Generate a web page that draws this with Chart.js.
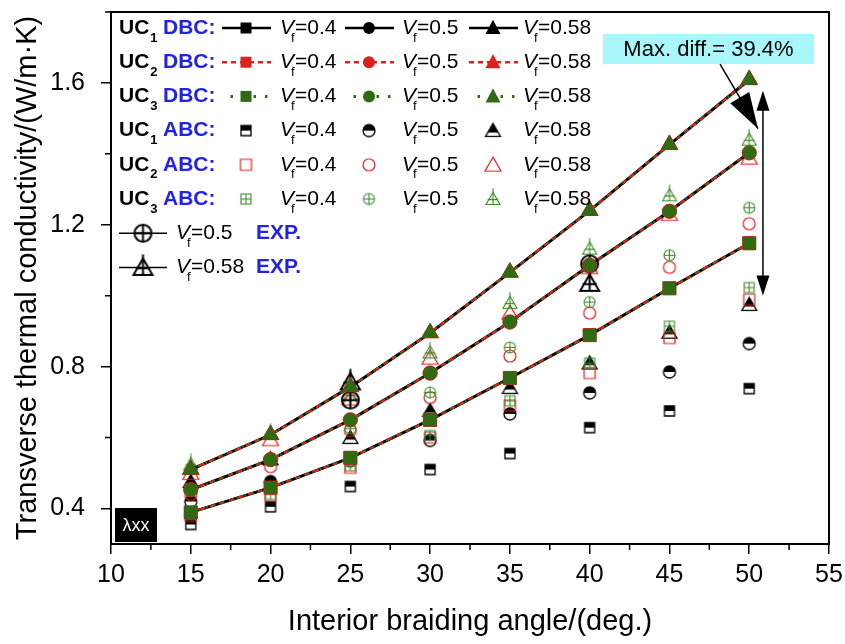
<!DOCTYPE html>
<html>
<head>
<meta charset="utf-8">
<script src="https://cdn.jsdelivr.net/npm/chart.js"></script>
<style>
  body { margin: 0; background: #fff; }
  canvas { display: block; }
</style>
</head>
<body>
<canvas id="chart" width="845" height="644"></canvas>
<script>
// interior braiding angle (deg.)
const angles = [15, 20, 25, 30, 35, 40, 45, 50];
const expAngles = [25, 40];
const xTicks = [10, 15, 20, 25, 30, 35, 40, 45, 50, 55];
const xMinor = [12.5, 17.5, 22.5, 27.5, 32.5, 37.5, 42.5, 47.5, 52.5];
const yTicks = [0.4, 0.8, 1.2, 1.6];
const yMinor = [0.6, 1.0, 1.4, 1.8];

// DBC predictions (UC1, UC2, UC3 fall on top of each other)
const uc1Dbc40 = [0.389, 0.459, 0.543, 0.650, 0.768, 0.889, 1.021, 1.148];
const uc1Dbc50 = [0.453, 0.538, 0.650, 0.782, 0.926, 1.086, 1.238, 1.403];
const uc1Dbc58 = [0.510, 0.608, 0.743, 0.895, 1.066, 1.240, 1.426, 1.609];
const uc2Dbc40 = [0.389, 0.459, 0.543, 0.650, 0.768, 0.889, 1.021, 1.148];
const uc2Dbc50 = [0.453, 0.538, 0.650, 0.782, 0.926, 1.086, 1.238, 1.403];
const uc2Dbc58 = [0.510, 0.608, 0.743, 0.895, 1.066, 1.240, 1.426, 1.609];
const uc3Dbc40 = [0.389, 0.459, 0.543, 0.650, 0.768, 0.889, 1.021, 1.148];
const uc3Dbc50 = [0.453, 0.538, 0.650, 0.782, 0.926, 1.086, 1.238, 1.403];
const uc3Dbc58 = [0.510, 0.608, 0.743, 0.895, 1.066, 1.240, 1.426, 1.609];

// ABC predictions
const uc1Abc40 = [0.355, 0.405, 0.462, 0.510, 0.555, 0.628, 0.675, 0.738];
const uc1Abc50 = [0.420, 0.476, 0.535, 0.592, 0.667, 0.726, 0.785, 0.865];
const uc1Abc58 = [0.476, 0.540, 0.600, 0.676, 0.741, 0.810, 0.897, 0.975];
const uc2Abc40 = [0.380, 0.437, 0.515, 0.600, 0.690, 0.782, 0.881, 0.989];
const uc2Abc50 = [0.440, 0.518, 0.620, 0.713, 0.830, 0.951, 1.080, 1.203];
const uc2Abc58 = [0.500, 0.595, 0.710, 0.825, 0.952, 1.080, 1.230, 1.389];
const uc3Abc40 = [0.385, 0.440, 0.520, 0.606, 0.704, 0.810, 0.914, 1.023];
const uc3Abc50 = [0.450, 0.535, 0.625, 0.727, 0.854, 0.982, 1.114, 1.248];
const uc3Abc58 = [0.525, 0.610, 0.720, 0.840, 0.980, 1.133, 1.283, 1.440];

// experiments
const exp50 = [0.706, 1.090];
const exp58 = [0.757, 1.035];

const FONT = 'Arial, "Liberation Sans", sans-serif';
const BLUE = '#2323e8';
const RED = '#e01f1f';
const GREEN = '#2f6b12';
const GREEN2 = '#3b8a25';

// marker pictures for the open / half-filled / crossed symbols
function makeMarker(shape, size, color, kind, lw) {
  const c = document.createElement('canvas');
  c.width = c.height = size + 12;
  const g = c.getContext('2d');
  const cx = c.width / 2, cy = c.height / 2, h = size / 2;
  const th = size * 0.87;
  const top = cy - th * 0.55, bot = cy + th * 0.45;
  g.lineWidth = lw;
  g.strokeStyle = color;
  const outline = () => {
    g.beginPath();
    if (shape === 'rect') g.rect(cx - h, cy - h, size, size);
    else if (shape === 'circle') g.arc(cx, cy, h, 0, Math.PI * 2);
    else { g.moveTo(cx, top); g.lineTo(cx + h, bot); g.lineTo(cx - h, bot); g.closePath(); }
  };
  if (kind === 'half') {
    outline(); g.fillStyle = '#fff'; g.fill();
    g.save(); outline(); g.clip();
    g.fillStyle = color;
    g.fillRect(0, 0, c.width, shape === 'triangle' ? cy + th * 0.15 : cy);
    g.restore();
  }
  outline(); g.stroke();
  if (kind === 'cross') {
    g.beginPath();
    if (shape === 'triangle') {
      const my = cy + th * 0.05;
      g.moveTo(cx, top - 4); g.lineTo(cx, bot);
      g.moveTo(cx - h * 0.75, my); g.lineTo(cx + h * 0.75, my);
    } else {
      g.moveTo(cx, cy - h); g.lineTo(cx, cy + h);
      g.moveTo(cx - h, cy); g.lineTo(cx + h, cy);
    }
    g.stroke();
  }
  return c;
}

const mk = {
  uc1Rect: makeMarker('rect', 10, '#000', 'half', 1.3),
  uc1Circ: makeMarker('circle', 12, '#000', 'half', 1.3),
  uc1Tri: makeMarker('triangle', 15, '#000', 'half', 1.3),
  uc2Rect: makeMarker('rect', 11, RED, 'open', 1.2),
  uc2Circ: makeMarker('circle', 12, RED, 'open', 1.2),
  uc2Tri: makeMarker('triangle', 16, RED, 'open', 1.2),
  uc3Rect: makeMarker('rect', 10, GREEN2, 'cross', 1.1),
  uc3Circ: makeMarker('circle', 11, GREEN2, 'cross', 1.1),
  uc3Tri: makeMarker('triangle', 14, GREEN2, 'cross', 1.1),
  expCirc: makeMarker('circle', 17, '#000', 'cross', 2),
  expTri: makeMarker('triangle', 19, '#000', 'cross', 2)
};

function pts(xs, ys) { return xs.map((a, i) => ({ x: a, y: ys[i] })); }

function dbcSet(values, shape, color, dash, width, r) {
  return {
    data: pts(angles, values), showLine: true,
    borderColor: color, borderWidth: width, borderDash: dash,
    pointStyle: shape, pointRadius: r, pointHoverRadius: r,
    pointBackgroundColor: color, pointBorderColor: color, pointBorderWidth: 1
  };
}
function abcSet(xs, values, img) {
  return { data: pts(xs, values), showLine: false, pointStyle: img, pointRadius: 6, pointHoverRadius: 6 };
}

// index 0 is drawn on top
const datasets = [
  dbcSet(uc3Dbc58, 'triangle', GREEN, [2, 6], 2.6, 9),
  dbcSet(uc3Dbc50, 'circle', GREEN, [2, 6], 2.6, 6.5),
  dbcSet(uc3Dbc40, 'rect', GREEN, [2, 6], 2.6, 8.5),
  dbcSet(uc2Dbc58, 'triangle', RED, [5, 5], 2.6, 9.8),
  dbcSet(uc2Dbc50, 'circle', RED, [5, 5], 2.6, 7.2),
  dbcSet(uc2Dbc40, 'rect', RED, [5, 5], 2.6, 9.3),
  dbcSet(uc1Dbc58, 'triangle', '#000', [], 3, 9),
  dbcSet(uc1Dbc50, 'circle', '#000', [], 3, 6.5),
  dbcSet(uc1Dbc40, 'rect', '#000', [], 3, 8.5),
  abcSet(expAngles, exp50, mk.expCirc),
  abcSet(expAngles, exp58, mk.expTri),
  abcSet(angles, uc3Abc58, mk.uc3Tri),
  abcSet(angles, uc3Abc50, mk.uc3Circ),
  abcSet(angles, uc3Abc40, mk.uc3Rect),
  abcSet(angles, uc2Abc58, mk.uc2Tri),
  abcSet(angles, uc2Abc50, mk.uc2Circ),
  abcSet(angles, uc2Abc40, mk.uc2Rect),
  abcSet(angles, uc1Abc58, mk.uc1Tri),
  abcSet(angles, uc1Abc50, mk.uc1Circ),
  abcSet(angles, uc1Abc40, mk.uc1Rect)
];

// annotation placement in data units
const noteBox = { x0: 40.83, x1: 54.06, y0: 1.738, y1: 1.653 };
const noteArrow = { x0: 48.17, y0: 1.653, x1: 50.55, y1: 1.471 };
const diffArrow = { x: 50.86, y0: 1.578, y1: 1.001 };

function arrowHead(ctx, x1, y1, x2, y2, len, half) {
  const a = Math.atan2(y2 - y1, x2 - x1);
  const bx = x2 - len * Math.cos(a), by = y2 - len * Math.sin(a);
  ctx.beginPath();
  ctx.moveTo(x2, y2);
  ctx.lineTo(bx + half * Math.sin(a), by - half * Math.cos(a));
  ctx.lineTo(bx - half * Math.sin(a), by + half * Math.cos(a));
  ctx.closePath();
  ctx.fill();
}

function legendMarker(ctx, shape, x, y, s, color) {
  ctx.fillStyle = color;
  ctx.beginPath();
  if (shape === 'rect') ctx.rect(x - s / 2, y - s / 2, s, s);
  else if (shape === 'circle') ctx.arc(x, y, s / 2, 0, Math.PI * 2);
  else { ctx.moveTo(x, y - s * 0.55); ctx.lineTo(x + s / 2, y + s * 0.4); ctx.lineTo(x - s / 2, y + s * 0.4); ctx.closePath(); }
  ctx.fill();
}

function vfText(ctx, x, y, val) {
  ctx.fillStyle = '#000';
  ctx.font = 'italic 21px ' + FONT;
  ctx.fillText('V', x, y);
  const w = ctx.measureText('V').width;
  ctx.font = '13px ' + FONT;
  ctx.fillText('f', x + w - 3, y + 10);
  ctx.font = '21px ' + FONT;
  ctx.fillText('=' + val, x + w + 1, y);
}

function ucLabel(ctx, y, n, tag) {
  ctx.fillStyle = '#000';
  ctx.font = 'bold 21px ' + FONT;
  ctx.fillText('UC', 119, y);
  const w = ctx.measureText('UC').width;
  ctx.font = 'bold 13px ' + FONT;
  ctx.fillText(n, 119 + w + 1, y + 10);
  ctx.font = 'bold 21px ' + FONT;
  ctx.fillStyle = BLUE;
  ctx.fillText(tag, 163, y);
}

const decor = {
  id: 'decor',
  afterDatasetsDraw(chart) {
    const { ctx, chartArea: a, scales: { x, y } } = chart;
    ctx.save();
    ctx.strokeStyle = '#000';
    ctx.lineWidth = 2;
    ctx.strokeRect(a.left, a.top, a.right - a.left, a.bottom - a.top);
    ctx.lineWidth = 1.5;
    ctx.beginPath();
    xMinor.forEach(v => { const p = x.getPixelForValue(v); ctx.moveTo(p, a.bottom); ctx.lineTo(p, a.bottom + 6); });
    yMinor.forEach(v => { const p = y.getPixelForValue(v); ctx.moveTo(a.left, p); ctx.lineTo(a.left - 6, p); });
    ctx.stroke();

    // note box and arrows
    const bx0 = x.getPixelForValue(noteBox.x0), bx1 = x.getPixelForValue(noteBox.x1);
    const by0 = y.getPixelForValue(noteBox.y0), by1 = y.getPixelForValue(noteBox.y1);
    ctx.fillStyle = '#a9f7fb';
    ctx.fillRect(bx0, by0, bx1 - bx0, by1 - by0);
    ctx.fillStyle = '#000';
    ctx.font = '22px ' + FONT;
    ctx.textAlign = 'center';
    ctx.textBaseline = 'middle';
    ctx.fillText('Max. diff.= 39.4%', (bx0 + bx1) / 2, (by0 + by1) / 2 + 1);

    const ax0 = x.getPixelForValue(noteArrow.x0), ay0 = y.getPixelForValue(noteArrow.y0);
    const ax1 = x.getPixelForValue(noteArrow.x1), ay1 = y.getPixelForValue(noteArrow.y1);
    ctx.lineWidth = 1.5;
    ctx.beginPath(); ctx.moveTo(ax0, ay0); ctx.lineTo(ax1, ay1); ctx.stroke();
    arrowHead(ctx, ax0, ay0, ax1, ay1, 36, 11);

    const dx = x.getPixelForValue(diffArrow.x);
    const dy0 = y.getPixelForValue(diffArrow.y0), dy1 = y.getPixelForValue(diffArrow.y1);
    ctx.beginPath(); ctx.moveTo(dx, dy0 + 10); ctx.lineTo(dx, dy1 - 10); ctx.stroke();
    arrowHead(ctx, dx, dy1, dx, dy0, 20, 6.5);
    arrowHead(ctx, dx, dy0, dx, dy1, 20, 6.5);

    // λxx tag
    ctx.fillStyle = '#000';
    ctx.fillRect(a.left + 4, a.bottom - 36, 42, 34);
    ctx.fillStyle = '#fff';
    ctx.font = '18px ' + FONT;
    ctx.fillText('λxx', a.left + 25, a.bottom - 18);
    ctx.restore();
  },
  afterDraw(chart) {
    const ctx = chart.ctx;
    ctx.save();
    ctx.textAlign = 'left';
    ctx.textBaseline = 'middle';
    const rowY = i => 28 + 34.2 * i;
    const cols = [246, 369, 493];
    const txt = [280, 402, 523];
    const vals = ['0.4', '0.5', '0.58'];
    const shapes = ['rect', 'circle', 'triangle'];
    const sizes = [11, 12, 15];
    const dbcStyles = [
      { n: '1', color: '#000', dash: [], lw: 2.5, off: 0 },
      { n: '2', color: RED, dash: [5, 4], lw: 2.5, off: 0 },
      { n: '3', color: GREEN, dash: [2.5, 9], lw: 3, off: 3 }
    ];
    dbcStyles.forEach((st, r) => {
      const yy = rowY(r);
      ucLabel(ctx, yy, st.n, 'DBC:');
      cols.forEach((cx, k) => {
        ctx.strokeStyle = st.color;
        ctx.lineWidth = st.lw;
        ctx.setLineDash(st.dash);
        ctx.lineDashOffset = st.off;
        ctx.beginPath(); ctx.moveTo(cx - 24, yy); ctx.lineTo(cx + 25, yy); ctx.stroke();
        ctx.setLineDash([]);
        legendMarker(ctx, shapes[k], cx, yy, sizes[k], st.color);
        vfText(ctx, txt[k], yy, vals[k]);
      });
    });
    const abcImgs = [
      [mk.uc1Rect, mk.uc1Circ, mk.uc1Tri],
      [mk.uc2Rect, mk.uc2Circ, mk.uc2Tri],
      [mk.uc3Rect, mk.uc3Circ, mk.uc3Tri]
    ];
    abcImgs.forEach((imgs, r) => {
      const yy = rowY(r + 3);
      ucLabel(ctx, yy, String(r + 1), 'ABC:');
      cols.forEach((cx, k) => {
        const im = imgs[k];
        ctx.drawImage(im, cx - im.width / 2, yy - im.height / 2);
        vfText(ctx, txt[k], yy, vals[k]);
      });
    });
    [[mk.expCirc, '0.5'], [mk.expTri, '0.58']].forEach(([im, v], r) => {
      const yy = rowY(r + 6);
      ctx.strokeStyle = '#000';
      ctx.lineWidth = 1.5;
      ctx.beginPath(); ctx.moveTo(119, yy); ctx.lineTo(167, yy); ctx.stroke();
      ctx.drawImage(im, 143 - im.width / 2, yy - im.height / 2);
      vfText(ctx, 176, yy, v);
      ctx.font = 'bold 21px ' + FONT;
      ctx.fillStyle = BLUE;
      ctx.fillText('EXP.', 256, yy);
    });
    ctx.restore();
  }
};

new Chart(document.getElementById('chart'), {
  type: 'scatter',
  data: { datasets },
  options: {
    responsive: false,
    animation: false,
    devicePixelRatio: 1,
    layout: { padding: { top: 12, right: 16, left: 0, bottom: 0 } },
    plugins: { legend: { display: false }, tooltip: { enabled: false } },
    scales: {
      x: {
        type: 'linear', min: 10, max: 55,
        afterBuildTicks: s => { s.ticks = xTicks.map(v => ({ value: v })); },
        afterFit: s => { s.height = 100; s.paddingLeft = 0; s.paddingRight = 0; },
        grid: { drawOnChartArea: false, tickLength: 10, color: '#000', lineWidth: 1.5 },
        border: { display: true, color: '#000', width: 2 },
        ticks: { color: '#000', font: { family: FONT, size: 25 }, padding: 6, maxRotation: 0, callback: v => String(v) },
        title: { display: true, text: 'Interior braiding angle/(deg.)', color: '#000', font: { family: FONT, size: 29 }, padding: { top: 0, bottom: 5 } }
      },
      y: {
        type: 'linear', min: 0.3, max: 1.8,
        afterBuildTicks: s => { s.ticks = yTicks.map(v => ({ value: v })); },
        afterFit: s => { s.width = 111; s.paddingTop = 0; s.paddingBottom = 0; },
        grid: { drawOnChartArea: false, tickLength: 10, color: '#000', lineWidth: 1.5 },
        border: { display: true, color: '#000', width: 2 },
        ticks: { color: '#000', font: { family: FONT, size: 25 }, padding: 16, callback: v => v.toFixed(1) },
        title: { display: true, text: 'Transverse thermal conductivity/(W/m·K)', color: '#000', font: { family: FONT, size: 29 }, padding: { top: 11, bottom: 0 } }
      }
    }
  },
  plugins: [decor]
});
</script>
</body>
</html>
